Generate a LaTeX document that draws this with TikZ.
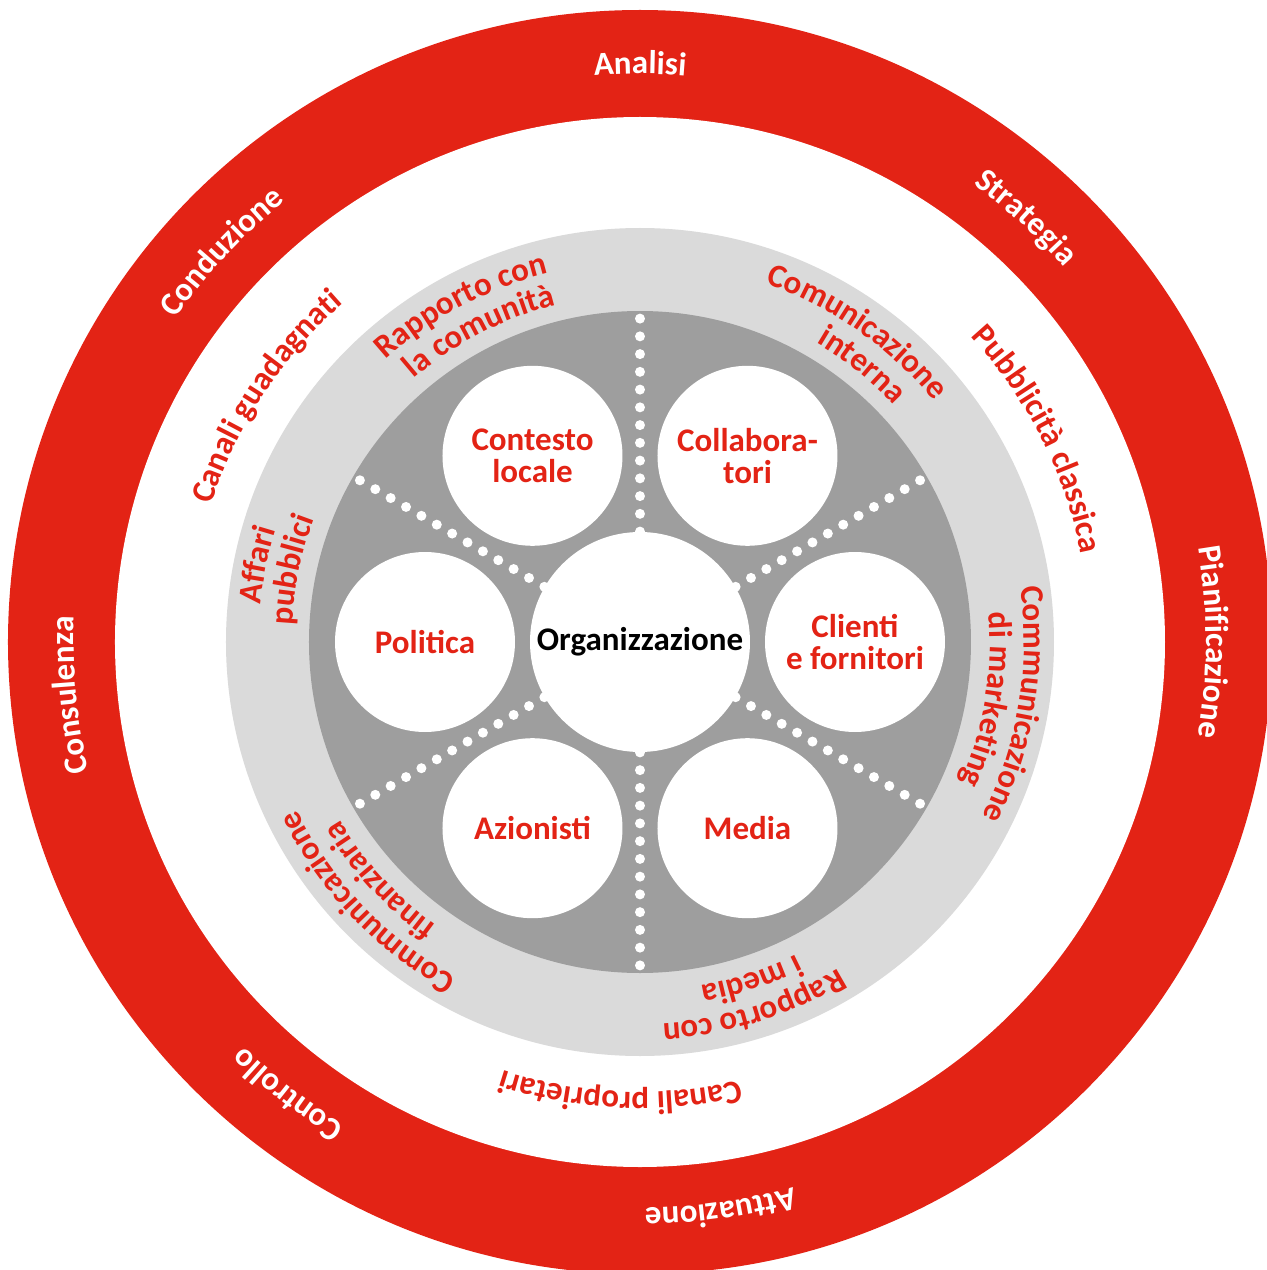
\documentclass[tikz,border=0pt]{standalone}
\usepackage{fontspec}
\setmainfont{Carlito}
\usetikzlibrary{decorations.text}
\definecolor{ringred}{RGB}{227,35,21}
\definecolor{lightgr}{RGB}{218,218,218}
\definecolor{darkgr}{RGB}{158,158,158}
\newcommand\lblfont{\fontsize{16.5}{16}\selectfont\bfseries}
\newcommand\curvlbl[4]{%
  \path[decorate, decoration={text along path, text align=center, text={|\lblfont\color{#3}|#4}}]
    ({#1+70}:#2) arc[start angle={#1+70}, end angle={#1-70}, radius=#2];}
\begin{document}
\begin{tikzpicture}[x=0.5pt,y=0.5pt,
  smallc/.style={circle, fill=white, minimum size=90pt, inner sep=0pt, align=center, text=ringred, font=\lblfont},
  orgc/.style={circle, fill=white, minimum size=110pt, inner sep=0pt, text=black, font=\lblfont},
  dotline/.style={white, line width=5pt, line cap=round, dash pattern=on 0pt off 8.875pt}]
\useasboundingbox (-640,-628) rectangle (626,642);
\fill[white] (-640,-628) rectangle (626,642);
\fill[ringred] (0,0) circle[radius=632];
\fill[white] (0,0) circle[radius=525];
\fill[lightgr] (0,0) circle[radius=414];
\fill[darkgr] (0,0) circle[radius=331];
% centre
\node[orgc] (org) at (0,0) {Organizzazione};
% dotted separators
\foreach \a in {30,90,150,210,270,330} {
  \coordinate (e\a) at (\a:324.5);
  \draw[dotline] (org.\a) -- (e\a);
}
% stakeholder circles
\node[smallc] (ctx) at (120:215) {Contesto\\locale};
\node[smallc] (col) at (60:215) {Collabora-\\tori};
\node[smallc] (pol) at (180:215) {Politica};
\node[smallc] (cli) at (0:215) {Clienti\\e fornitori};
\node[smallc] (azi) at (240:215) {Azionisti};
\node[smallc] (med) at (300:215) {Media};
% red ring labels
\curvlbl{90}{568}{white}{Analisi}
\curvlbl{47.7}{566}{white}{Strategia}
\curvlbl{0}{566}{white}{Pianificazione}
\curvlbl{-81.9}{566}{white}{Attuazione}
\curvlbl{-127.9}{566}{white}{Controllo}
\curvlbl{185.3}{566}{white}{Consulenza}
\curvlbl{137}{566}{white}{Conduzione}
% white ring labels
\curvlbl{146.7}{450}{ringred}{Canali guadagnati}
\curvlbl{27}{450}{ringred}{Pubblicità classica}
\curvlbl{-92.5}{450}{ringred}{Canali proprietari}
% grey ring labels
\curvlbl{118}{380}{ringred}{Rapporto con}
\curvlbl{117.3}{347}{ringred}{la comunità}
\curvlbl{55}{380}{ringred}{Comunicazione}
\curvlbl{51.3}{347}{ringred}{interna}
\curvlbl{168.6}{381}{ringred}{Affari}
\curvlbl{168.3}{348}{ringred}{pubblici}
\curvlbl{-9.4}{384}{ringred}{Communicazione}
\curvlbl{-9.4}{350}{ringred}{di marketing}
\curvlbl{223.7}{382}{ringred}{Communicazione}
\curvlbl{222.5}{349}{ringred}{finanziaria}
\curvlbl{-72.7}{382}{ringred}{Rapporto con}
\curvlbl{-71.7}{349}{ringred}{i media}
\end{tikzpicture}
\end{document}
